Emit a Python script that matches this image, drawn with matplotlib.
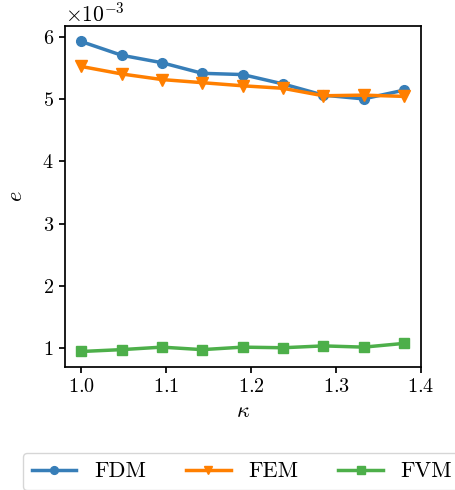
import numpy as np
import matplotlib
matplotlib.use('Agg')
import matplotlib.pyplot as plt

plt.rcParams['font.family'] = 'serif'
plt.rcParams['font.serif'] = ['cmr10', 'DejaVu Serif']
plt.rcParams['mathtext.fontset'] = 'cm'
plt.rcParams['axes.formatter.use_mathtext'] = True
plt.rcParams['font.size'] = 14.5
plt.rcParams['axes.linewidth'] = 1.25
plt.rcParams['xtick.major.width'] = 1.25
plt.rcParams['ytick.major.width'] = 1.25
plt.rcParams['xtick.major.size'] = 4.5
plt.rcParams['ytick.major.size'] = 4.5

kappa = [1.0, 1.0475, 1.095, 1.1425, 1.19, 1.2375, 1.285, 1.3325, 1.38]
fdm = [5.92, 5.70, 5.58, 5.41, 5.39, 5.24, 5.06, 5.00, 5.14]
fem = [5.52, 5.40, 5.31, 5.26, 5.21, 5.17, 5.05, 5.06, 5.04]
fvm = [0.95, 0.98, 1.02, 0.98, 1.02, 1.01, 1.04, 1.02, 1.08]

fig = plt.figure(figsize=(4.55, 4.9), dpi=100)
ax = fig.add_axes([65 / 455, 1 - 367 / 490, 356 / 455, 341 / 490])

ax.plot(kappa, np.array(fdm) * 1e-3, color='#377eb8', marker='o', lw=2.5, ms=7, label='FDM')
ax.plot(kappa, np.array(fem) * 1e-3, color='#ff7f00', marker='v', lw=2.5, ms=8, label='FEM')
ax.plot(kappa, np.array(fvm) * 1e-3, color='#4daf4a', marker='s', lw=2.5, ms=7, label='FVM')

ax.set_xticks([1.0, 1.1, 1.2, 1.3, 1.4])
ax.set_xlabel(r'$\kappa$', fontsize=16)
ax.set_ylabel(r'$e$', fontsize=16, labelpad=12)
ax.ticklabel_format(axis='y', style='sci', scilimits=(0, 0))
ax.yaxis.get_offset_text().set_fontsize(15.5)

fig.legend(loc='upper left', bbox_to_anchor=(23 / 455, 1 - 453 / 490), ncol=3,
           fontsize=16, markerscale=0.8, edgecolor='#cccccc', borderaxespad=0,
           columnspacing=1.8)

fig.savefig('out.png', dpi=100)
